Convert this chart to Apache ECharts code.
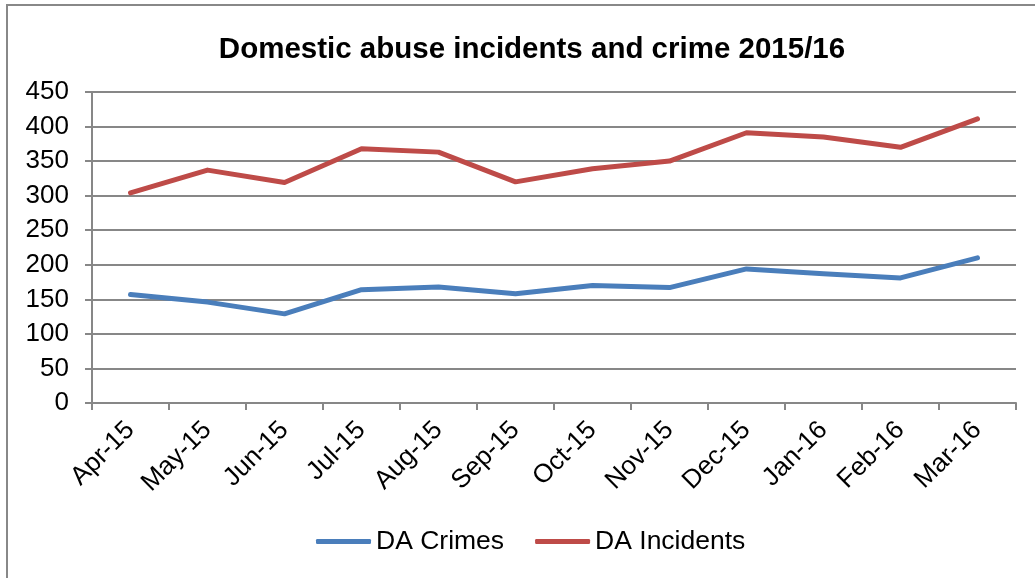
<!DOCTYPE html>
<html>
<head>
<meta charset="utf-8">
<script src="https://cdn.jsdelivr.net/npm/echarts@6/dist/echarts.min.js"></script>
<style>
  html, body { margin: 0; padding: 0; background: #fff; }
  #chart { width: 1035px; height: 578px; }
</style>
</head>
<body>
<div id="chart"></div>
<script>
const months = ['Apr-15', 'May-15', 'Jun-15', 'Jul-15', 'Aug-15', 'Sep-15', 'Oct-15', 'Nov-15', 'Dec-15', 'Jan-16', 'Feb-16', 'Mar-16'];
const daCrimes = [157, 146, 129, 164, 168, 158, 170, 167, 194, 187, 181, 210];
const daIncidents = [304, 337, 319, 368, 363, 320, 339, 350, 391, 385, 370, 411];

const font = 'Arial, "Liberation Sans", sans-serif';
const gridGrey = '#878787';

const chart = echarts.init(document.getElementById('chart'));
chart.setOption({
  backgroundColor: '#fff',
  animation: false,
  title: {
    text: 'Domestic abuse incidents and crime 2015/16',
    left: 527,
    textAlign: 'center',
    top: 30,
    textStyle: { fontFamily: font, fontSize: 29.5, fontWeight: 'bold', color: '#000' },
  },
  grid: { left: 92, right: 19, top: 92, bottom: 175 },
  legend: {
    bottom: 18,
    left: 311,
    itemWidth: 55,
    itemHeight: 5,
    itemGap: 31,
    icon: 'roundRect',
    textStyle: { fontFamily: font, fontSize: 26.5, color: '#000' },
    data: ['DA Crimes', 'DA Incidents'],
  },
  xAxis: {
    type: 'category',
    data: months,
    boundaryGap: true,
    axisLine: { lineStyle: { color: gridGrey, width: 2 } },
    axisTick: { show: true, length: 7, lineStyle: { color: gridGrey, width: 2 } },
    axisLabel: { rotate: 45, margin: 23, fontFamily: font, fontSize: 26, color: '#000', interval: 0 },
  },
  yAxis: {
    type: 'value',
    min: 0,
    max: 450,
    interval: 50,
    axisLine: { show: true, lineStyle: { color: gridGrey, width: 2 } },
    axisTick: { show: true, length: 7, lineStyle: { color: gridGrey, width: 2 } },
    axisLabel: { margin: 23, fontFamily: font, fontSize: 26, color: '#000' },
    splitLine: { lineStyle: { color: gridGrey, width: 2 } },
  },
  series: [
    {
      name: 'DA Crimes',
      type: 'line',
      data: daCrimes,
      showSymbol: false,
      symbol: 'none',
      itemStyle: { color: '#4A7EBB' },
      lineStyle: { color: '#4A7EBB', width: 5, cap: 'round', join: 'round' },
    },
    {
      name: 'DA Incidents',
      type: 'line',
      data: daIncidents,
      showSymbol: false,
      symbol: 'none',
      itemStyle: { color: '#BE4B48' },
      lineStyle: { color: '#BE4B48', width: 5, cap: 'round', join: 'round' },
    },
  ],
  graphic: [
    {
      type: 'polyline',
      shape: { points: [[7, 600], [7, 5], [1040, 5]] },
      style: { stroke: '#888', lineWidth: 2, fill: null },
      silent: true,
    },
  ],
});
</script>
</body>
</html>
